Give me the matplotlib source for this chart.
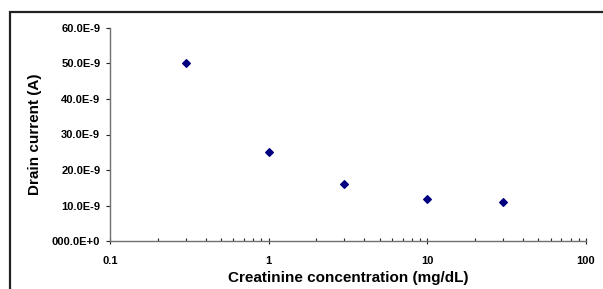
import matplotlib.pyplot as plt
from matplotlib.patches import Rectangle
from matplotlib.ticker import FixedLocator, FixedFormatter, LogLocator, NullFormatter

# dados
concentracao = [0.3, 1, 3, 10, 30]            # mg/dL
corrente = [50.0e-9, 25.1e-9, 16.1e-9, 11.8e-9, 10.9e-9]  # A
y_ticks = [0, 10e-9, 20e-9, 30e-9, 40e-9, 50e-9, 60e-9]
y_labels = ['000.0E+0', '10.0E-9', '20.0E-9', '30.0E-9', '40.0E-9', '50.0E-9', '60.0E-9']
x_ticks = [0.1, 1, 10, 100]
x_labels = ['0.1', '1', '10', '100']

plt.rcParams['font.family'] = ['Liberation Sans', 'DejaVu Sans']
plt.rcParams['font.weight'] = 'bold'

fig = plt.figure(figsize=(6.03, 2.89), dpi=100)
ax = fig.add_axes([110/603, 1 - 241/289, 476/603, 213/289])

# moldura externa da área do gráfico
fig.patches.append(Rectangle((10/603, -0.1), 1.2, 1 - 12/289 + 0.1,
                             transform=fig.transFigure, fill=False,
                             edgecolor='#222222', linewidth=1.6))

ax.scatter(concentracao, corrente, marker='D', s=15, color='#000080', zorder=3)

ax.set_xscale('log')
ax.set_xlim(0.1, 100)
ax.set_ylim(0, 60e-9)

ax.xaxis.set_major_locator(FixedLocator(x_ticks))
ax.xaxis.set_major_formatter(FixedFormatter(x_labels))
ax.xaxis.set_minor_locator(LogLocator(base=10, subs=range(2, 10)))
ax.xaxis.set_minor_formatter(NullFormatter())
ax.yaxis.set_major_locator(FixedLocator(y_ticks))
ax.yaxis.set_major_formatter(FixedFormatter(y_labels))

cor_eixo = '#707070'
for lado in ['top', 'right']:
    ax.spines[lado].set_visible(False)
for lado in ['left', 'bottom']:
    ax.spines[lado].set_color(cor_eixo)
    ax.spines[lado].set_linewidth(1.0)

ax.tick_params(axis='x', which='major', direction='inout', length=5, width=0.8,
               color='#222222', labelsize=8, pad=8)
ax.tick_params(axis='x', which='minor', direction='in', length=2, width=0.8, color='#222222')
ax.tick_params(axis='y', which='major', direction='out', length=3, width=0.8,
               color='#222222', labelsize=8, pad=4)

ax.set_xlabel('Creatinine concentration (mg/dL)', fontsize=11, fontweight='bold', labelpad=4)
ax.set_ylabel('Drain current (A)', fontsize=11, fontweight='bold', labelpad=7)

fig.savefig('out.png', dpi=100)
